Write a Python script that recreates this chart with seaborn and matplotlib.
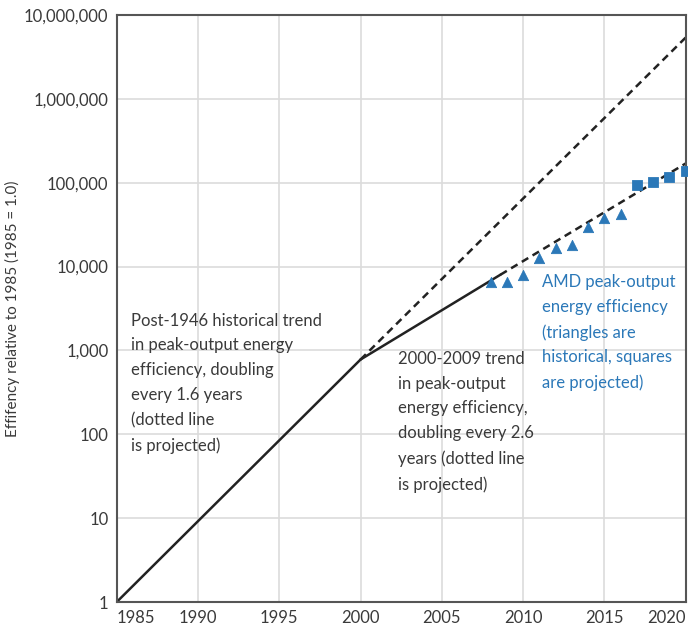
import matplotlib
matplotlib.use('Agg')
import matplotlib.pyplot as plt
import matplotlib.ticker as mticker
import seaborn as sns

# 趋势线
trend1_years = [1985, 2000]
trend1_vals = [1, 780]
trend1_proj_years = [2000, 2020]
trend1_proj_vals = [780, 5.4e6]

trend2_years = [2000, 2008.6]
trend2_vals = [780, 8000]
trend2_proj_years = [2008.6, 2020]
trend2_proj_vals = [8000, 170000]

# AMD 数据点
amd_hist_years = [2008, 2009, 2010, 2011, 2012, 2013, 2014, 2015, 2016]
amd_hist_vals = [6500, 6600, 7900, 12500, 16500, 18000, 29500, 37800, 42600]
amd_proj_years = [2017, 2018, 2019, 2020]
amd_proj_vals = [93000, 102000, 117000, 137000]

x_ticks = [1985, 1990, 1995, 2000, 2005, 2010, 2015, 2020]
y_ticks = [1, 10, 100, 1000, 10000, 100000, 1000000, 10000000]

sns.set_theme(style='whitegrid')
plt.rcParams['font.family'] = ['Lato', 'DejaVu Sans']

text_color = '#3a3a3a'
blue = '#2b78b8'
line_color = '#222222'

fig = plt.figure(figsize=(6.88, 6.30), dpi=100)
ax = fig.add_axes([0.1696, 0.0444, 0.8271, 0.9317])

sns.lineplot(x=trend1_years, y=trend1_vals, ax=ax, color=line_color, lw=1.8)
sns.lineplot(x=trend1_proj_years, y=trend1_proj_vals, ax=ax, color=line_color,
             lw=1.8, linestyle=(0, (3, 2)))
sns.lineplot(x=trend2_years, y=trend2_vals, ax=ax, color=line_color, lw=1.8)
sns.lineplot(x=trend2_proj_years, y=trend2_proj_vals, ax=ax, color=line_color,
             lw=1.8, linestyle=(0, (3, 2)))

sns.scatterplot(x=amd_hist_years, y=amd_hist_vals, ax=ax, marker='^', s=55,
                color=blue, edgecolor=blue, zorder=5, clip_on=False)
sns.scatterplot(x=amd_proj_years, y=amd_proj_vals, ax=ax, marker='s', s=55,
                color=blue, edgecolor=blue, zorder=5, clip_on=False)

ax.set_yscale('log')
ax.set_xlim(1985, 2019.9)
ax.set_ylim(1, 1e7)
ax.set_xticks(x_ticks)
ax.set_yticks(y_ticks)
ax.yaxis.set_minor_locator(mticker.NullLocator())
ax.yaxis.set_major_formatter(mticker.FuncFormatter(lambda v, p: f'{int(round(v)):,}'))
ax.set_xticklabels([str(y) for y in x_ticks])

ax.grid(True, which='major', color='#dcdcdc', lw=1.2)
for s in ax.spines.values():
    s.set_visible(True)
    s.set_color('#555555')
    s.set_linewidth(1.5)

ax.tick_params(axis='both', length=0, labelsize=12, colors=text_color)
ax.tick_params(axis='y', pad=6)
ax.tick_params(axis='x', pad=6)
xl = ax.get_xticklabels()
xl[0].set_ha('left')
xl[-1].set_ha('right')

ax.set_ylabel('Effifency relative to 1985 (1985 = 1.0)', fontsize=11, color=text_color)
ax.yaxis.set_label_coords(-0.17, 0.5)
ax.set_xlabel('')

ax.text(0.025, 0.493, 'Post-1946 historical trend\nin peak-output energy\nefficiency, doubling\n'
        'every 1.6 years\n(dotted line\nis projected)',
        transform=ax.transAxes, va='top', ha='left', fontsize=12,
        color=text_color, linespacing=1.68)
ax.text(0.494, 0.428, '2000-2009 trend\nin peak-output\nenergy efficiency,\n'
        'doubling every 2.6\nyears (dotted line\nis projected)',
        transform=ax.transAxes, va='top', ha='left', fontsize=12,
        color=text_color, linespacing=1.68)
ax.text(0.748, 0.559, 'AMD peak-output\nenergy efficiency\n(triangles are\n'
        'historical, squares\nare projected)',
        transform=ax.transAxes, va='top', ha='left', fontsize=12,
        color=blue, linespacing=1.68)

fig.savefig('out.png', dpi=100)
